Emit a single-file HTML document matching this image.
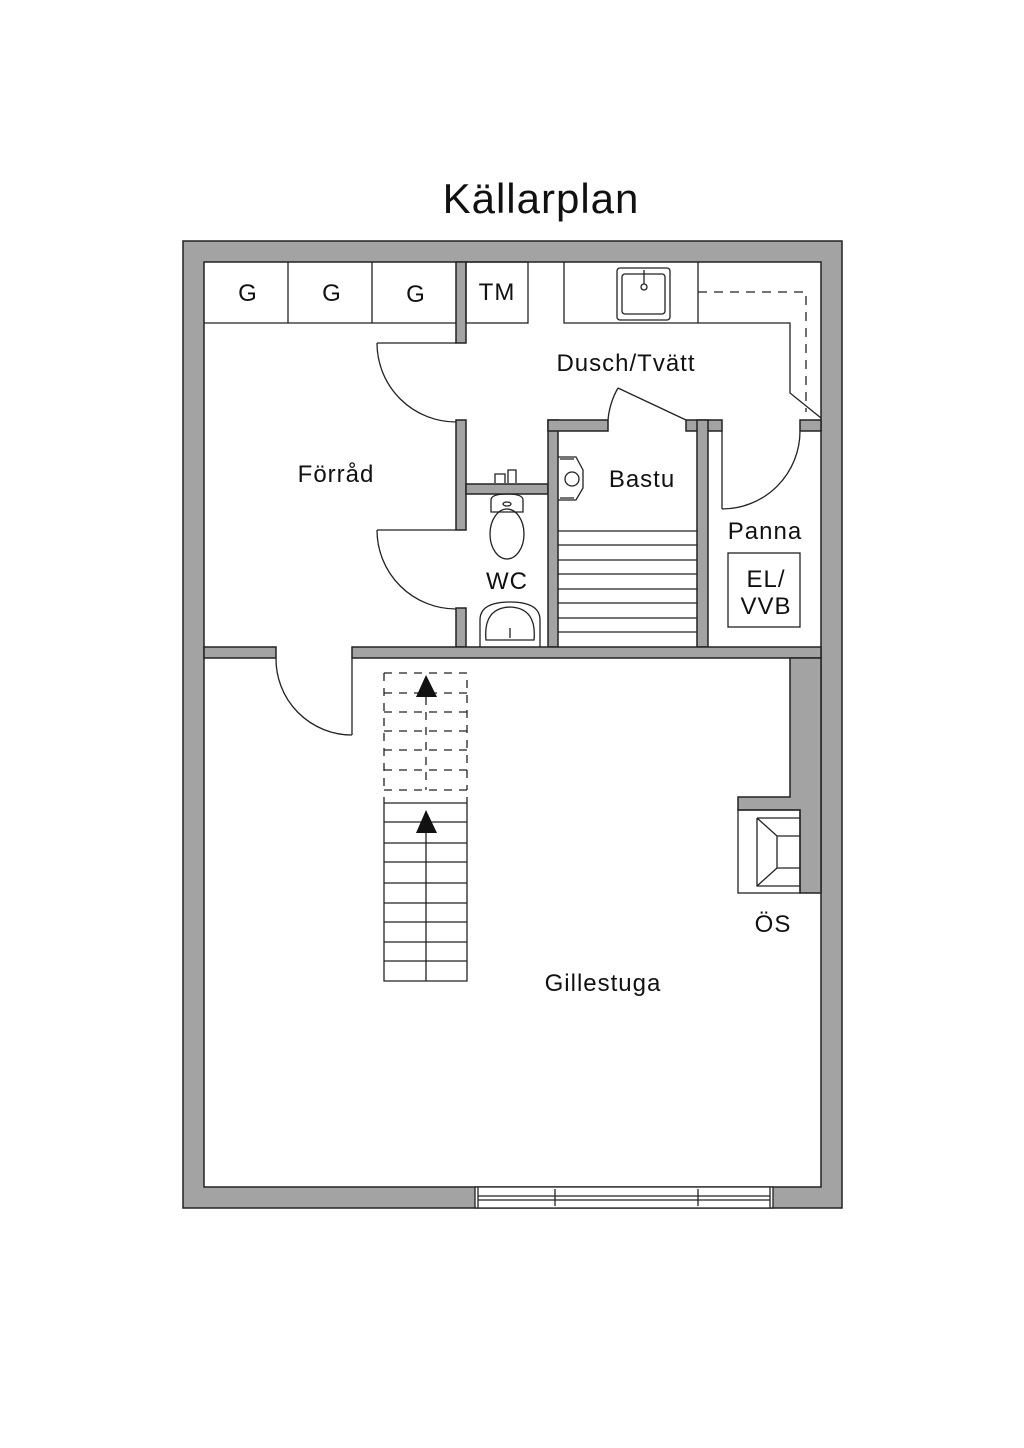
<!DOCTYPE html>
<html><head><meta charset="utf-8"><style>html,body{margin:0;padding:0;background:#fff}svg{display:block}</style></head>
<body>
<svg width="1024" height="1448" viewBox="0 0 1024 1448" xmlns="http://www.w3.org/2000/svg" font-family="Liberation Sans, sans-serif">
<rect width="1024" height="1448" fill="#fff"/>
<text x="541" y="213" font-size="42" text-anchor="middle" fill="#111" letter-spacing="1">Källarplan</text>
<rect x="183" y="241" width="659" height="967" fill="#a3a3a3" stroke="#222" stroke-width="1.5"/>
<rect x="204" y="262" width="617" height="925" fill="#fff" stroke="#222" stroke-width="1.5"/>
<g fill="#a3a3a3" stroke="#222" stroke-width="1.5">
<rect x="456" y="262" width="10" height="81"/>
<rect x="456" y="420" width="10" height="110"/>
<rect x="456" y="608" width="10" height="39"/>
<rect x="466" y="484" width="82" height="10"/>
<rect x="548" y="420" width="10" height="227"/>
<rect x="548" y="420" width="60" height="11"/>
<rect x="686" y="420" width="36" height="11"/>
<rect x="697" y="420" width="11" height="227"/>
<rect x="800" y="420" width="21" height="11"/>
<rect x="204" y="647" width="72" height="11"/>
<rect x="352" y="647" width="469" height="11"/>
<path d="M790 658 V797 H738 V810 H800 V893 H821 V658 Z"/>
</g>
<g fill="none" stroke="#222" stroke-width="1.3">
<line x1="204" y1="323" x2="456" y2="323"/>
<line x1="288" y1="262" x2="288" y2="323"/>
<line x1="372" y1="262" x2="372" y2="323"/>
<rect x="466" y="262" width="62" height="61"/>
<path d="M564 262 V323 H790 V393 L821 418"/>
<line x1="698" y1="262" x2="698" y2="323"/>
<rect x="617" y="268" width="53" height="52" rx="3"/>
<rect x="622" y="274" width="43" height="40" rx="3"/>
<circle cx="644" cy="287" r="3"/><line x1="644" y1="270" x2="644" y2="284"/>
<path d="M698 292 H806 V412" stroke-dasharray="9 7"/>
<path d="M377 343 H456 M377 343 A79 79 0 0 0 456 422"/>
<path d="M377 530 H456 M377 530 A79 79 0 0 0 456 609"/>
<path d="M686 420 L618 388 M618 388 A78 78 0 0 0 608 420"/>
<path d="M722 431 V509 M722 509 A78 78 0 0 0 800 431"/>
<path d="M352 658 V735 M276 658 A76 76 0 0 0 352 735"/>
<path d="M558 531 H697 M558 545 H697 M558 560 H697 M558 574 H697 M558 589 H697 M558 603 H697 M558 618 H697 M558 632 H697"/>
<path d="M558 457 H576 L583 470 V488 L576 500 H558"/>
<path d="M560 459 H574 M560 498 H574"/>
<circle cx="572" cy="479" r="7"/>
<path d="M491 512 V500 Q491 494 507 494 Q523 494 523 500 V512 Z"/>
<ellipse cx="507" cy="534" rx="17" ry="25"/>
<ellipse cx="507" cy="504" rx="4" ry="2"/>
<path d="M480 647 V620 Q480 602 510 602 Q540 602 540 620 V647"/>
<path d="M486 640 Q483 608 510 607 Q537 608 534 640 Z"/>
<line x1="510" y1="628" x2="510" y2="638"/>
<path d="M495 483 V474 H505 V483 M508 483 V470 H516 V483"/>
<rect x="728" y="553" width="72" height="74"/>
<rect x="738" y="810" width="62" height="83"/>
<path d="M757 818 H800 M757 818 V886 H800 M757 818 L777 836 H800 M757 886 L777 868 H800 M777 836 V868"/>
<rect x="475" y="1187" width="298" height="21" fill="#fff"/>
<path d="M478 1196 H770 M478 1200 H770 M478 1187 V1208 M770 1187 V1208 M555 1189 V1206 M698 1189 V1206"/>
<path d="M384 797 V981 H467 V797"/>
<path d="M384 803 H467 M384 822 H467 M384 843 H467 M384 862 H467 M384 883 H467 M384 903 H467 M384 922 H467 M384 942 H467 M384 961 H467"/>
<line x1="426" y1="830" x2="426" y2="981"/>
<g stroke-dasharray="8 7">
<path d="M384 673 H467 V790 M384 673 V790 M384 693 H467 M384 712 H467 M384 731 H467 M384 750 H467 M384 770 H467 M384 790 H467"/>
<path d="M426 697 V790"/>
</g>
</g>
<polygon points="426,810 416,833 437,833" fill="#111"/>
<polygon points="426,675 416,697 437,697" fill="#111"/>
<g font-size="24" fill="#111" text-anchor="middle" letter-spacing="1">
<text x="248" y="301">G</text>
<text x="332" y="301">G</text>
<text x="416" y="302">G</text>
<text x="497" y="300">TM</text>
<text x="626" y="371">Dusch/Tvätt</text>
<text x="336" y="482">Förråd</text>
<text x="642" y="487">Bastu</text>
<text x="765" y="539">Panna</text>
<text x="766" y="587">EL/</text>
<text x="766" y="614">VVB</text>
<text x="507" y="589">WC</text>
<text x="773" y="932">ÖS</text>
<text x="603" y="991">Gillestuga</text>
</g>
</svg>
</body></html>
